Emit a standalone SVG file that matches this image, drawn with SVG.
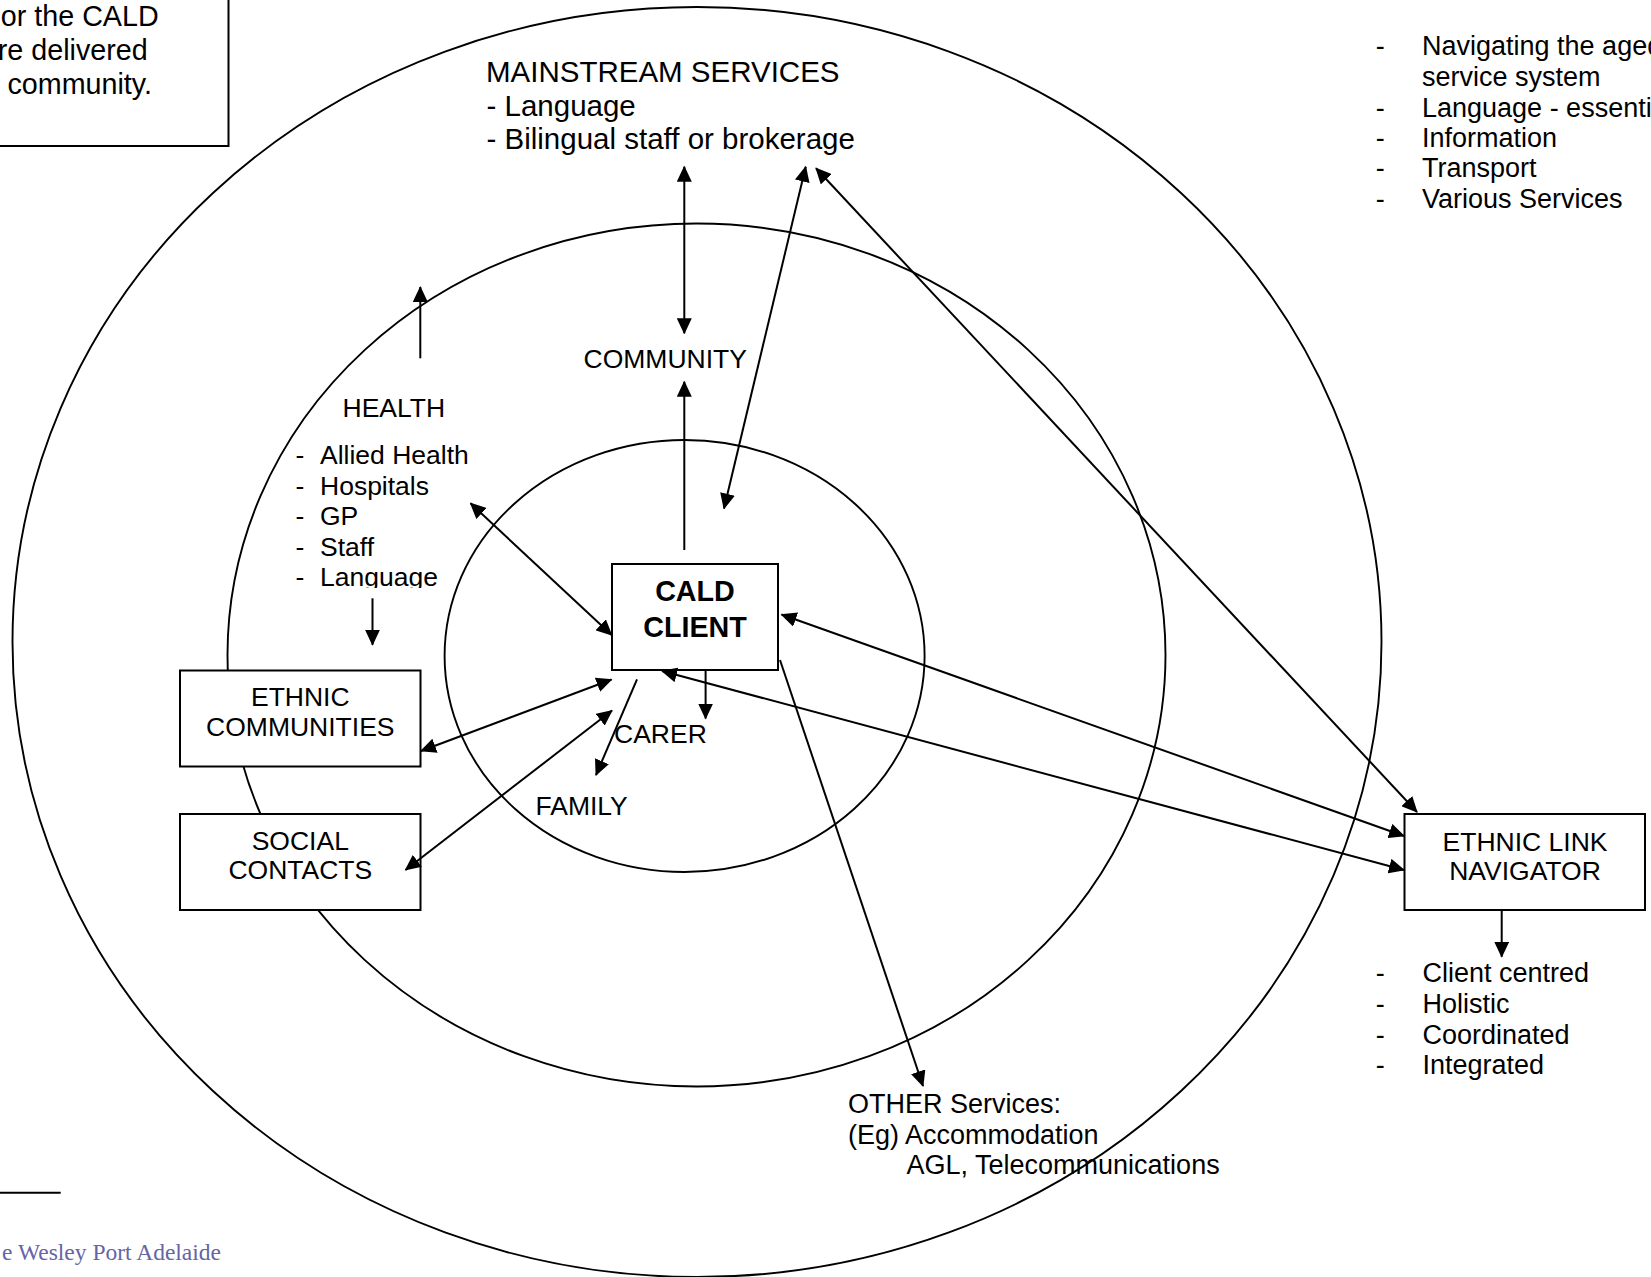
<svg xmlns="http://www.w3.org/2000/svg" width="1651" height="1277" viewBox="0 0 1651 1277">
<style>
text{font-family:"Liberation Sans",Arial,sans-serif;fill:#000}
.t{font-size:26.5px}
.o{font-size:27px}
.m{font-size:29.5px}
.b{font-size:28.7px;font-weight:bold}
.n{font-size:28.7px}
.l{font-size:27px}
.c{text-anchor:middle}
.ring{fill:none;stroke:#000;stroke-width:1.9}
.box{fill:#fff;stroke:#000;stroke-width:2}
.ar{fill:none;stroke:#000;stroke-width:2;marker-end:url(#ah)}
.da{fill:none;stroke:#000;stroke-width:2;marker-end:url(#ah);marker-start:url(#ah)}
.foot{font-family:"Liberation Serif","Times New Roman",serif;font-size:23.5px;fill:#6464A6;text-anchor:end}
</style>
<defs>
<marker id="ah" markerUnits="userSpaceOnUse" markerWidth="16" markerHeight="15" refX="15" refY="7.5" orient="auto-start-reverse" viewBox="0 0 16 15">
<path d="M0,0 L16,7.5 L0,15 z" fill="#000"/>
</marker>
<clipPath id="hclip"><rect x="280" y="430" width="220" height="158"/></clipPath>
</defs>
<rect x="0" y="0" width="1651" height="1277" fill="#fff"/>

<g id="rings">
<ellipse class="ring" cx="697" cy="642" rx="684.5" ry="635"/>
<ellipse class="ring" cx="696.5" cy="655" rx="469" ry="431.5"/>
<ellipse class="ring" cx="684.6" cy="656" rx="240" ry="216"/>
</g>

<g id="note-box">
<rect class="box" x="-10" y="-10" width="238.5" height="156"/>
<text class="n" x="158.7" y="26" text-anchor="end">or the CALD</text>
<text class="n" x="147.7" y="60" text-anchor="end">re delivered</text>
<text class="n" x="152" y="94" text-anchor="end"> community.</text>
</g>

<g id="mainstream">
<text class="m" x="486" y="82">MAINSTREAM SERVICES</text>
<text class="m" x="486.5" y="115.5">- Language</text>
<text class="m" x="486.5" y="149">- Bilingual staff or brokerage</text>
</g>

<g id="navigator-list">
<text class="l" x="1375.8" y="54.5">-</text><text class="l" x="1422" y="54.5">Navigating the aged</text>
<text class="l" x="1422" y="85.5">service system</text>
<text class="l" x="1375.8" y="116.5">-</text><text class="l" x="1422" y="116.5">Language - essenti</text>
<text class="l" x="1375.8" y="146.5">-</text><text class="l" x="1422" y="146.5">Information</text>
<text class="l" x="1375.8" y="177.3">-</text><text class="l" x="1422" y="177.3">Transport</text>
<text class="l" x="1375.8" y="208.3">-</text><text class="l" x="1422" y="208.3">Various Services</text>
</g>

<g id="community"><text class="t" x="583.5" y="367.5">COMMUNITY</text></g>

<g id="health">
<text class="t" x="342.5" y="416.7">HEALTH</text>
<g clip-path="url(#hclip)">
<text class="t" x="295.5" y="464.3">-</text><text class="t" x="320" y="464.3">Allied Health</text>
<text class="t" x="295.5" y="495">-</text><text class="t" x="320" y="495">Hospitals</text>
<text class="t" x="295.5" y="525.3">-</text><text class="t" x="320" y="525.3">GP</text>
<text class="t" x="295.5" y="556">-</text><text class="t" x="320" y="556">Staff</text>
<text class="t" x="295.5" y="586.3">-</text><text class="t" x="320" y="586.3">Language</text>
</g>
</g>

<g id="ethnic-communities">
<rect class="box" x="180" y="670.5" width="240.5" height="96"/>
<text class="t c" x="300.3" y="706.3">ETHNIC</text>
<text class="t c" x="300.3" y="735.6">COMMUNITIES</text>
</g>

<g id="social-contacts">
<rect class="box" x="180" y="814" width="240.5" height="96"/>
<text class="t c" x="300.3" y="850">SOCIAL</text>
<text class="t c" x="300.3" y="879.3">CONTACTS</text>
</g>

<g id="cald-client">
<rect class="box" x="612" y="564" width="166" height="106"/>
<text class="b c" x="695" y="600.7">CALD</text>
<text class="b c" x="695" y="636.7">CLIENT</text>
</g>

<g id="carer"><text class="t" x="614" y="742.8">CARER</text></g>
<g id="family"><text class="t" x="535.5" y="815">FAMILY</text></g>

<g id="other-services">
<text class="o" x="848" y="1113.3">OTHER Services:</text>
<text class="o" x="848" y="1143.8">(Eg) Accommodation</text>
<text class="o" x="906.5" y="1174">AGL, Telecommunications</text>
</g>

<g id="ethnic-link-navigator">
<rect class="box" x="1404.5" y="814" width="240.5" height="96"/>
<text class="t c" x="1525" y="850.7">ETHNIC LINK</text>
<text class="t c" x="1525" y="880">NAVIGATOR</text>
</g>

<g id="navigator-qualities">
<text class="l" x="1375.8" y="981.7">-</text><text class="l" x="1422.5" y="981.7">Client centred</text>
<text class="l" x="1375.8" y="1012.5">-</text><text class="l" x="1422.5" y="1012.5">Holistic</text>
<text class="l" x="1375.8" y="1043.5">-</text><text class="l" x="1422.5" y="1043.5">Coordinated</text>
<text class="l" x="1375.8" y="1074.3">-</text><text class="l" x="1422.5" y="1074.3">Integrated</text>
</g>

<g id="connectors">
<line class="da" x1="684.3" y1="166.7" x2="684.3" y2="333.3"/>
<line class="ar" x1="684.3" y1="550" x2="684.3" y2="381.7"/>
<line class="da" x1="805.7" y1="166.7" x2="724" y2="508.5"/>
<line class="da" x1="816" y1="168.3" x2="1417" y2="812"/>
<line class="da" x1="781.5" y1="614.5" x2="1404" y2="836"/>
<line class="da" x1="662" y1="671" x2="1404" y2="870"/>
<line class="ar" x1="780" y1="660" x2="923" y2="1086"/>
<line class="da" x1="470.5" y1="503.3" x2="611.7" y2="635"/>
<line class="ar" x1="420.3" y1="358.3" x2="420.3" y2="287"/>
<line class="ar" x1="372.5" y1="598.3" x2="372.5" y2="644.7"/>
<line class="da" x1="421" y1="751" x2="611.5" y2="679.5"/>
<line class="da" x1="405.5" y1="870" x2="612" y2="710.5"/>
<line class="ar" x1="637" y1="679.3" x2="596" y2="775"/>
<line class="ar" x1="705.6" y1="670.3" x2="705.6" y2="718.5"/>
<line class="ar" x1="1501.7" y1="910" x2="1501.7" y2="956.7"/>
</g>

<g id="footer">
<line x1="0" y1="1192.7" x2="60.7" y2="1192.7" stroke="#000" stroke-width="2"/>
<text class="foot" x="221" y="1260">e Wesley Port Adelaide</text>
</g>
</svg>
